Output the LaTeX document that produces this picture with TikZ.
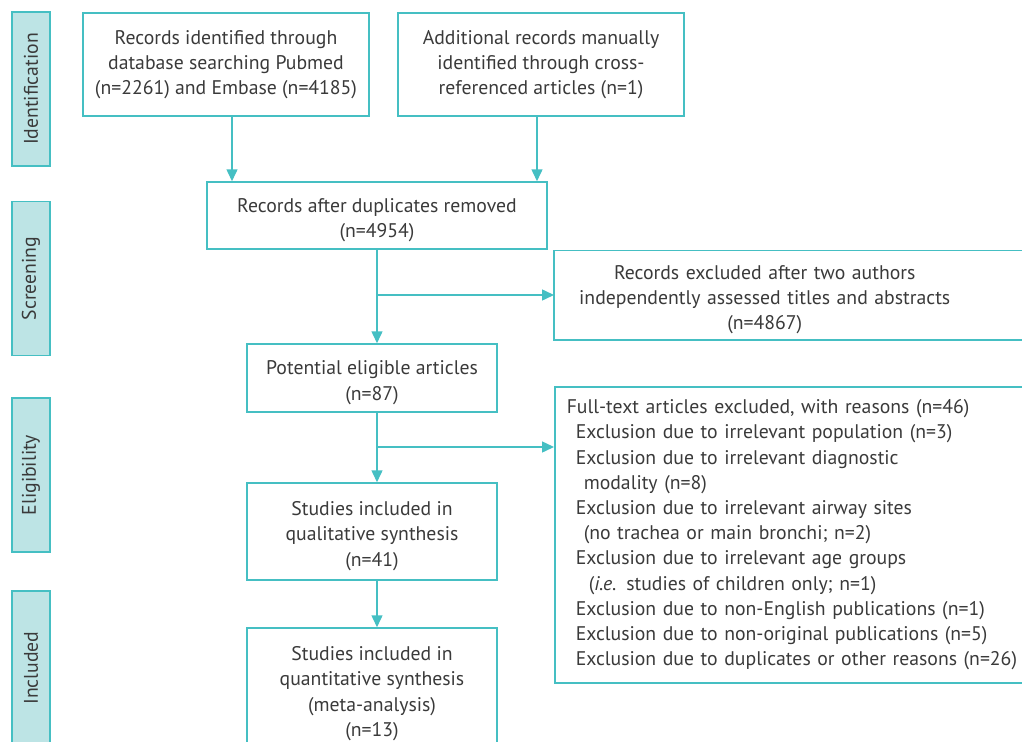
\documentclass[tikz,border=0pt]{standalone}
\usepackage{fontspec}
\setmainfont{PT Sans}
\usetikzlibrary{arrows.meta}

\newlength\px
\setlength\px{0.75pt}
\newcommand\topstrut{\rule{0pt}{17.5pt}}
\definecolor{prismteal}{HTML}{45BFC3}
\definecolor{prismfill}{HTML}{BDE4E5}
\definecolor{prismtext}{HTML}{3A3A3A}

\tikzset{
  box/.style={draw=prismteal, line width=1.5\px, text=prismtext, align=center, inner sep=0pt},
  stage/.style={box, fill=prismfill, rotate=90, minimum width=154\px, minimum height=38\px},
  flow/.style={draw=prismteal, line width=1.5\px, -{Triangle[length=9pt,width=8.25pt]}},
}

\begin{document}
\begin{tikzpicture}[x=\px, y=-\px, font=\fontsize{14.8pt}{18.9pt}\selectfont]
  \path[use as bounding box, clip] (0,0) rectangle (1022,742);

  % phases
  \node[stage] (idf) at (31,89) {Identification};
  \node[stage] (scr) at (31,278.5) {Screening};
  \node[stage] (elg) at (31,475) {Eligibility};
  \node[stage] (inc) at (31,668) {Included};

  % main column
  \node[box, minimum width=286\px, minimum height=103\px] (srcdb) at (226,64.5)
    {Records identified through\\database searching Pubmed\\(n=2261) and Embase (n=4185)};
  \node[box, minimum width=286\px, minimum height=103\px] (srcman) at (541,64.5)
    {Additional records manually\\identified through cross-\\referenced articles (n=1)};
  \node[box, minimum width=340\px, minimum height=67\px] (dedup) at (377,215.5)
    {\topstrut Records after duplicates removed\\(n=4954)};
  \node[box, minimum width=250\px, minimum height=68\px] (pot) at (372,378)
    {\topstrut Potential eligible articles\\(n=87)};
  \node[box, minimum width=250\px, minimum height=97\px] (qual) at (372,531.5)
    {\topstrut Studies included in\\qualitative synthesis\\(n=41)};
  \node[box, minimum width=250\px, minimum height=122\px] (quant) at (372,689)
    {\topstrut Studies included in\\quantitative synthesis\\(meta-analysis)\\(n=13)};

  % exclusions
  \node[box, draw=none, text width=420\px, minimum height=88\px, anchor=west] (screenex) at (554,295)
    {\topstrut Records excluded after two authors\\independently assessed titles and abstracts\\(n=4867)};
  \draw[draw=prismteal, line width=1.5\px] (screenex.north west) rectangle ([xshift=90pt]screenex.south east);
  \node[box, align=left, text width=500\px, inner xsep=12\px, minimum height=296\px, anchor=north west] (fulltx) at (554,386)
    {Full-text articles excluded, with reasons (n=46)\\
     \hspace*{9\px}Exclusion due to irrelevant population (n=3)\\
     \hspace*{9\px}Exclusion due to irrelevant diagnostic\\
     \hspace*{17\px}modality (n=8)\\
     \hspace*{9\px}Exclusion due to irrelevant airway sites\\
     \hspace*{17\px}(no trachea or main bronchi; n=2)\\
     \hspace*{9\px}Exclusion due to irrelevant age groups\\
     \hspace*{22\px}(\textit{i.e.} studies of children only; n=1)\\
     \hspace*{9\px}Exclusion due to non-English publications (n=1)\\
     \hspace*{9\px}Exclusion due to non-original publications (n=5)\\
     \hspace*{9\px}Exclusion due to duplicates or other reasons (n=26)};

  % arrows
  \coordinate (fork) at (377,447);
  \draw[flow] ([xshift=4.5pt]srcdb.south) -- ([xshift=4.5pt]srcdb.south |- dedup.north);
  \draw[flow] ([xshift=-3pt]srcman.south) -- ([xshift=-3pt]srcman.south |- dedup.north);
  \draw[flow] (dedup.south) -- (dedup.south |- pot.north);
  \draw[flow] (dedup.south |- screenex.west) -- (screenex.west);
  \draw[flow] (dedup.south |- pot.south) -- (dedup.south |- qual.north);
  \draw[flow] (fork) -- (fork -| fulltx.west);
  \draw[flow] (dedup.south |- qual.south) -- (dedup.south |- quant.north);
\end{tikzpicture}
\end{document}
